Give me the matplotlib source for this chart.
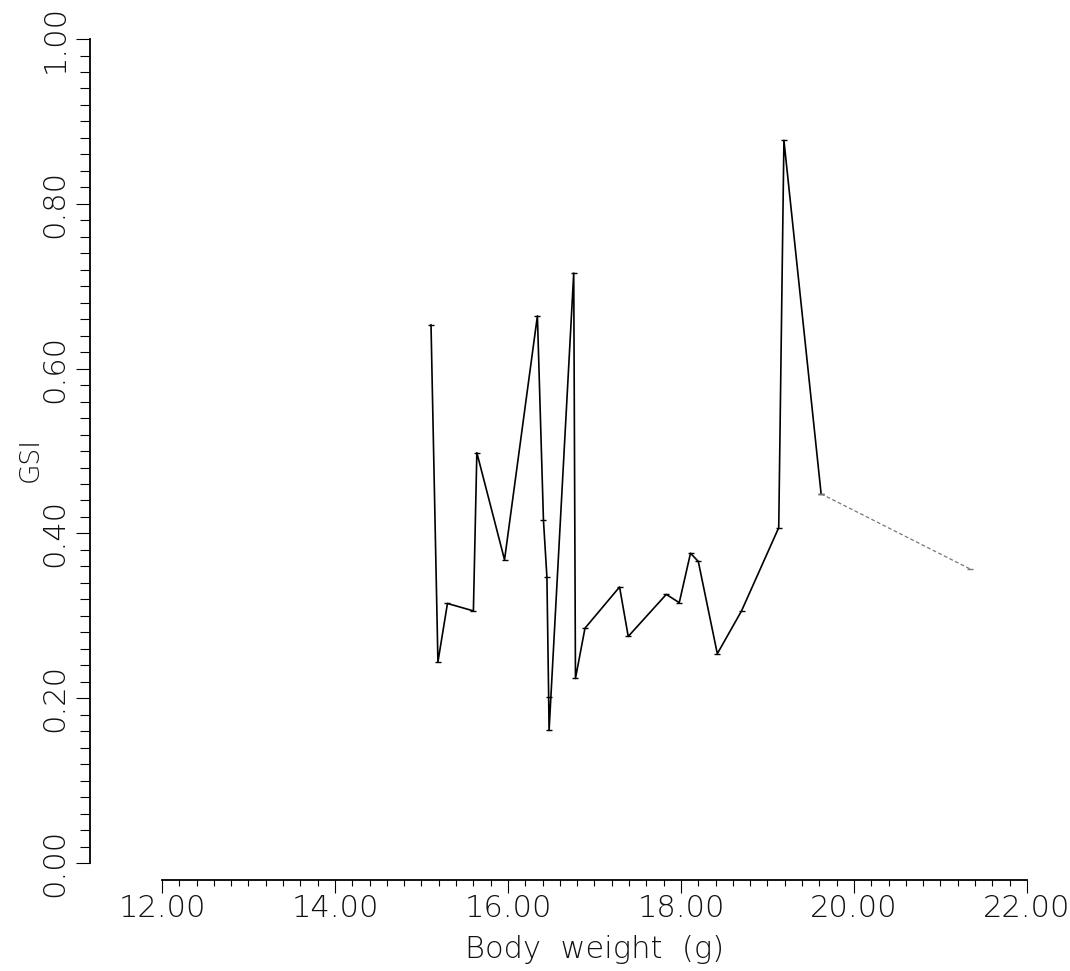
import numpy as np
import matplotlib
matplotlib.use('Agg')
import matplotlib.pyplot as plt
from matplotlib.ticker import MultipleLocator

# values
body_weight = [15.11, 15.19, 15.30, 15.60, 15.64, 15.96, 16.34, 16.41, 16.45,
               16.47, 16.475, 16.76, 16.78, 16.89, 17.29, 17.39, 17.83, 17.98,
               18.11, 18.20, 18.42, 18.70, 19.13, 19.19, 19.62, 21.34]
gsi = [0.653, 0.244, 0.315, 0.306, 0.498, 0.368, 0.664, 0.416, 0.347,
       0.202, 0.161, 0.716, 0.224, 0.285, 0.335, 0.275, 0.326, 0.316,
       0.376, 0.366, 0.254, 0.306, 0.407, 0.877, 0.448, 0.357]

x_ticks = [12, 14, 16, 18, 20, 22]
y_ticks = [0.0, 0.2, 0.4, 0.6, 0.8, 1.0]

plt.rcParams['font.family'] = ['DejaVu Sans']
plt.rcParams['font.weight'] = 200
plt.rcParams['axes.labelweight'] = 200

fig = plt.figure(figsize=(10.7, 9.71), dpi=100)
fig.patch.set_facecolor('white')
ax = fig.add_axes([0.1514, 0.1112, 0.8084, 0.8486])

# main line, last segment comes out faint in the original
ax.plot(body_weight[:-1], gsi[:-1], color='black', lw=1.2,
        marker='_', markersize=5, markeredgewidth=1.0)
ax.plot(body_weight[-2:], gsi[-2:], color='#777777', lw=0.9, ls=(0, (3, 2)),
        marker='_', markersize=5, markeredgewidth=1.0)

ax.set_xlim(12, 22)
ax.set_ylim(0, 1)

ax.spines['top'].set_visible(False)
ax.spines['right'].set_visible(False)
ax.spines['left'].set_position(('outward', 51.8))
ax.spines['bottom'].set_position(('outward', 12.2))
ax.spines['left'].set_linewidth(1.3)
ax.spines['bottom'].set_linewidth(1.3)

ax.set_xticks(x_ticks, labels=[f'{v:.2f}' for v in x_ticks])
ax.set_yticks(y_ticks, labels=[f'{v:.2f}' for v in y_ticks])
ax.xaxis.set_minor_locator(MultipleLocator(0.2))
ax.yaxis.set_minor_locator(MultipleLocator(0.02))

ax.tick_params(axis='x', which='major', direction='out', length=9.5, width=0.8,
               pad=0.5, labelsize=22)
ax.tick_params(axis='x', which='minor', direction='out', length=4.5, width=0.8)
ax.tick_params(axis='y', which='major', direction='out', length=10, width=0.8,
               pad=5.0, labelsize=22, labelrotation=90)
ax.tick_params(axis='y', which='minor', direction='out', length=7, width=0.8)
for lab in ax.get_yticklabels():
    lab.set_va('center')
    lab.set_color('#111111')
for lab in ax.get_xticklabels():
    lab.set_color('#111111')

ax.set_xlabel('Body  weight  (g)', fontsize=22, labelpad=9, color='#111111')
ax.set_ylabel('GSI', fontsize=19, labelpad=-2, color='#111111')
ax.yaxis.label.set_y(0.49)

fig.savefig('out.png', dpi=100, facecolor='white')
